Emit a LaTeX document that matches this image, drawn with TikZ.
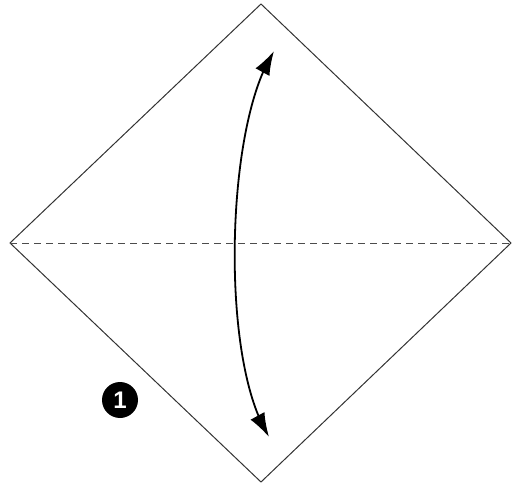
\documentclass[tikz,border=0pt]{standalone}
\usepackage{fontspec}
\newfontfamily\numfont{Liberation Sans}
\usetikzlibrary{arrows.meta}
\begin{document}
\begin{tikzpicture}[x=1pt,y=-1pt,
  edge/.style={line width=1pt,draw=black!80},
  foldline/.style={line width=0.9pt,draw=black!70,dash pattern=on 7pt off 5pt},
  turnline/.style={line width=1.8pt,shorten <=10pt,shorten >=10pt},
  turnhead/.style={line width=1.8pt,-{Latex[length=24pt,width=16pt]}},
  stepnum/.style={circle,fill=black,text=white,inner sep=0pt,minimum size=36pt,font=\numfont\bfseries\fontsize{24}{24}\selectfont}]
\useasboundingbox (0,0) rectangle (512,487);
\coordinate (T) at (261,4);
\coordinate (L) at (10,243);
\coordinate (R) at (511,243);
\coordinate (B) at (261,482);
\coordinate (A1) at (274,51);
\coordinate (A2) at (269,437);
\coordinate (H1) at (271.6,55.4);
\coordinate (H2) at (266.6,432.6);
\draw[edge] (T) -- (R) -- (B) -- (L) -- cycle;
\draw[foldline] (L) -- (R);
\draw[turnline] (A1) .. controls (226.7,136) and (221.6,348.4) .. (A2);
\draw[turnhead] (H1) -- (A1);
\draw[turnhead] (H2) -- (A2);
\node[stepnum] (n1) at (120,400) {1};
\end{tikzpicture}
\end{document}
